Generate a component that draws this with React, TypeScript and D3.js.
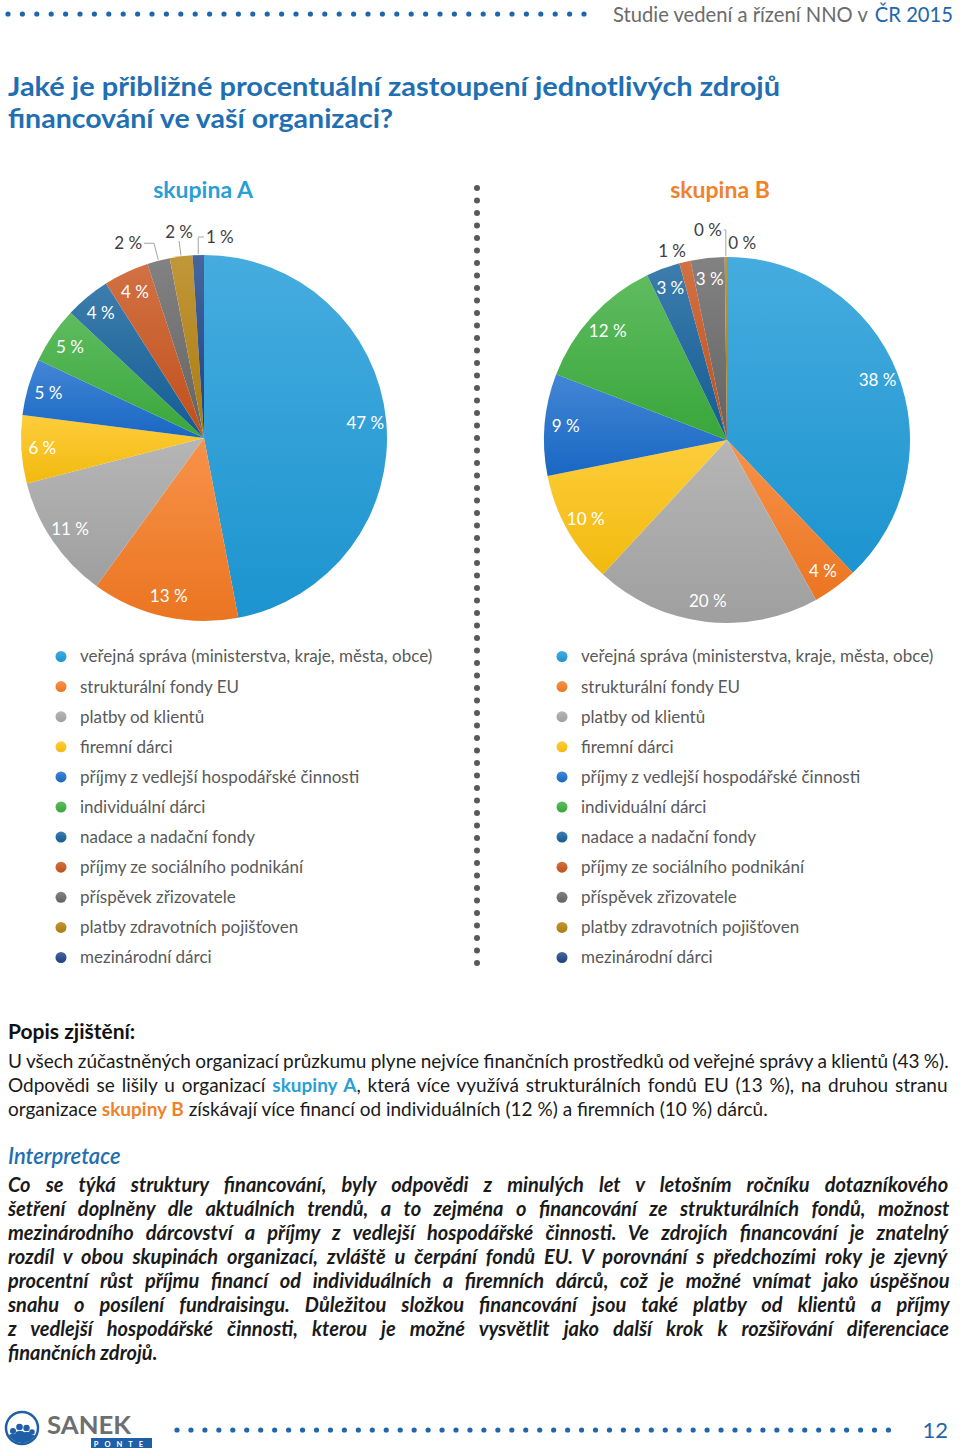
import React from 'react';
import * as d3 from 'd3';

// ---------- data ----------
const categories = [
  'veřejná správa (ministerstva, kraje, města, obce)',
  'strukturální fondy EU',
  'platby od klientů',
  'firemní dárci',
  'příjmy z vedlejší hospodářské činnosti',
  'individuální dárci',
  'nadace a nadační fondy',
  'příjmy ze sociálního podnikání',
  'příspěvek zřizovatele',
  'platby zdravotních pojišťoven',
  'mezinárodní dárci',
];
const sliceColors = [
  '#1d9ad8', '#f57a22', '#a6a6a6', '#fdc210', '#1a6ccc', '#3cad3d',
  '#13609a', '#c8521b', '#676767', '#b3800f', '#1d4487',
];
const valuesA = [47, 13, 11, 6, 5, 5, 4, 4, 2, 2, 1];
const valuesB = [38, 4, 20, 10, 9, 12, 3, 1, 3, 0.2, 0];
const groupTitles = ['skupina A', 'skupina B'];
const groupColors = ['#2a9fd6', '#f0822c'];

const headerText = 'Studie vedení a řízení NNO v';
const headerHighlight = 'ČR 2015';
const titleLines = [
  'Jaké je přibližné procentuální zastoupení jednotlivých zdrojů',
  'financování ve vaší organizaci?',
];
const popisTitle = 'Popis zjištění:';
type Seg = { t: string; c?: string; b?: boolean };
const popisLines: Seg[][] = [
  [{ t: 'U všech zúčastněných organizací průzkumu plyne nejvíce finančních prostředků od veřejné správy a klientů (43 %).' }],
  [
    { t: 'Odpovědi se lišily u organizací ' },
    { t: 'skupiny A', c: '#2a9fd6', b: true },
    { t: ', která více využívá strukturálních fondů EU (13 %), na druhou stranu' },
  ],
  [
    { t: 'organizace ' },
    { t: 'skupiny B', c: '#f0822c', b: true },
    { t: ' získávají více financí od individuálních (12 %) a firemních (10 %) dárců.' },
  ],
];
const interpTitle = 'Interpretace';
const interpLines = [
  'Co se týká struktury financování, byly odpovědi z minulých let v letošním ročníku dotazníkového',
  'šetření doplněny dle aktuálních trendů, a to zejména o financování ze strukturálních fondů, možnost',
  'mezinárodního dárcovství a příjmy z vedlejší hospodářské činnosti. Ve zdrojích financování je znatelný',
  'rozdíl v obou skupinách organizací, zvláště u čerpání fondů EU. V porovnání s předchozími roky je zjevný',
  'procentní růst příjmu financí od individuálních a firemních dárců, což je možné vnímat jako úspěšnou',
  'snahu o posílení fundraisingu. Důležitou složkou financování jsou také platby od klientů a příjmy',
  'z vedlejší hospodářské činnosti, kterou je možné vysvětlit jako další krok k rozšiřování diferenciace',
  'finančních zdrojů.',
];
const pageNumber = '12';

// ---------- layout ----------
const FONT = 'Lato, "Open Sans", sans-serif';
const W = 960;
const R = 183;
const centers = [
  { x: 204, y: 438 },
  { x: 727, y: 440 },
];
// outside labels: slice index, polar position (deg from 12 o'clock, radius), leader line
const outside = [
  [
    { i: 8, a: -21.3, r: 209, leader: true },
    { i: 9, a: -6.9, r: 207.5, leader: true },
    { i: 10, a: 4.5, r: 201.6, leader: true },
  ],
  [
    { i: 7, a: -16.2, r: 197, leader: false },
    { i: 9, a: -5.2, r: 211, leader: true },
    { i: 10, a: 4.4, r: 197.6, leader: false },
  ],
];

let _ctx: CanvasRenderingContext2D | null = null;
function measure(text: string, font: string) {
  if (!_ctx) _ctx = document.createElement('canvas').getContext('2d');
  if (!_ctx) return text.length * 8;
  _ctx.font = font;
  return _ctx.measureText(text).width;
}

function fontStr(size: number, bold: boolean, italic: boolean) {
  return `${italic ? 'italic ' : ''}${bold ? 'bold ' : ''}${size}px Lato`;
}

function JustLine({ segs, x, y, width, justify, size, bold, italic, color }: {
  segs: Seg[]; x: number; y: number; width: number; justify: boolean;
  size: number; bold: boolean; italic: boolean; color: string;
}) {
  let natural = 0;
  let spaces = 0;
  segs.forEach((s) => {
    natural += measure(s.t, fontStr(size, bold || !!s.b, italic));
    spaces += (s.t.match(/ /g) || []).length;
  });
  const props: any = {};
  const style: any = {};
  if (justify && spaces > 0) {
    const extra = (width - natural) / spaces;
    if (extra >= -0.8) style.wordSpacing = `${extra}px`;
    else {
      props.textLength = width;
      props.lengthAdjust = 'spacingAndGlyphs';
    }
  }
  return (
    <text x={x} y={y} fontFamily={FONT} fontSize={size} fontWeight={bold ? 700 : 400}
      fontStyle={italic ? 'italic' : 'normal'} fill={color} style={style} {...props}>
      {segs.map((s, k) => (
        <tspan key={k} fill={s.c || color} fontWeight={bold || s.b ? 700 : 400}>{s.t}</tspan>
      ))}
    </text>
  );
}

function Pie({ g, values }: { g: number; values: number[] }) {
  const c = centers[g];
  const pie = d3.pie<number>().sort(null).value((d) => d);
  const arcs = pie(values);
  const arc = d3.arc<d3.PieArcDatum<number>>().innerRadius(0).outerRadius(R);
  const outs = outside[g];
  const outIdx = new Set(outs.map((o) => o.i));
  const labelR = 162;
  return (
    <g transform={`translate(${c.x},${c.y})`}>
      {arcs.map((a, i) => (a.value > 0 ? (
        <path key={i} d={arc(a) || ''} fill={`url(#grad${i})`} />
      ) : null))}
      {arcs.map((a, i) => {
        if (outIdx.has(i) || a.value <= 0) return null;
        const m = (a.startAngle + a.endAngle) / 2;
        return (
          <text key={'l' + i} x={labelR * Math.sin(m)} y={-labelR * Math.cos(m)} dy="0.36em"
            textAnchor="middle" fontFamily={FONT} fontSize={17} fill="#ffffff">
            {`${Math.round(a.value)} %`}
          </text>
        );
      })}
      {outs.map((o) => {
        const a = arcs[o.i];
        const ang = (o.a * Math.PI) / 180;
        const lx = o.r * Math.sin(ang);
        const ly = -o.r * Math.cos(ang);
        const txt = `${Math.round(a.value)} %`;
        const tw = measure(txt, fontStr(17, false, false)) / 2;
        let line: string | null = null;
        if (o.leader) {
          const m = (a.startAngle + a.endAngle) / 2;
          const ex = (R + 1) * Math.sin(m);
          const ey = -(R + 1) * Math.cos(m);
          if (Math.abs(ex - lx) < tw) {
            line = `M${lx},${ly + 9}L${ex},${ey}`;
          } else {
            const sgn = Math.sign(ex - lx);
            const sx = lx + sgn * (tw + 2);
            const elx = sx + sgn * Math.min(10, Math.abs(ex - sx));
            line = `M${sx},${ly}L${elx},${ly}L${ex},${ey}`;
          }
        }
        return (
          <g key={'o' + o.i}>
            {line && <path d={line} fill="none" stroke="#a6a6a6" strokeWidth={1} />}
            <text x={lx} y={ly} dy="0.36em" textAnchor="middle" fontFamily={FONT}
              fontSize={17} fill="#404040">{txt}</text>
          </g>
        );
      })}
    </g>
  );
}

export default function App() {
  const headerDots = d3.range(41).map((k) => 8 + k * 14.4);
  const footerDots = d3.range(52).map((k) => 177 + k * 13.95);
  const dividerDots = d3.range(63).map((k) => 188 + k * 12.5);
  const legendX = [61, 562];
  const legendY0 = 656.5;
  const legendStep = 30.1;

  // header: two texts in a horizontally condensed group, right-aligned
  const hf = fontStr(22, false, false);
  const hw1 = measure(headerText, hf);
  const hsp = measure(' ', hf) + 1;
  const hw2 = measure(headerHighlight, hf);
  const hk = 340 / (hw1 + hsp + hw2);
  const hRight = 953;

  return (
    <svg width={W} height={1454} viewBox={`0 0 ${W} 1454`}
      style={{ position: 'absolute', left: 0, top: 0, background: '#fff' }}>
      <defs>
        {sliceColors.map((col, i) => {
          const top = d3.interpolateRgb(col, '#ffffff')(0.18);
          const bot = d3.color(col)!.darker(0.12).formatHex();
          return (
            <linearGradient key={i} id={`grad${i}`} x1="0" y1="0" x2="0" y2="1">
              <stop offset="0" stopColor={top} />
              <stop offset="1" stopColor={bot} />
            </linearGradient>
          );
        })}
        <clipPath id="logoClip"><circle cx={22} cy={1428} r={15} /></clipPath>
      </defs>

      {/* header */}
      {headerDots.map((x, k) => <circle key={k} cx={x} cy={14} r={2.6} fill="#1f66ad" />)}
      <g transform={`translate(${hRight - 340},22) scale(${hk},1)`}>
        <text x={0} y={0} fontFamily={FONT} fontSize={22} fill="#6b6b6b">{headerText}</text>
        <text x={hw1 + hsp} y={0} fontFamily={FONT} fontSize={22} fill="#1f66ad">{headerHighlight}</text>
      </g>

      {/* title */}
      <text x={8} y={96} fontFamily={FONT} fontSize={27} fontWeight={700} fill="#1f6fb2"
        textLength={772} lengthAdjust="spacingAndGlyphs">{titleLines[0]}</text>
      <text x={8} y={128} fontFamily={FONT} fontSize={27} fontWeight={700} fill="#1f6fb2"
        textLength={385} lengthAdjust="spacingAndGlyphs">{titleLines[1]}</text>

      {/* group titles */}
      {groupTitles.map((t, g) => (
        <text key={t} x={g === 0 ? 203 : 720} y={198} textAnchor="middle" fontFamily={FONT}
          fontSize={23} fontWeight={700} fill={groupColors[g]}>{t}</text>
      ))}

      <Pie g={0} values={valuesA} />
      <Pie g={1} values={valuesB} />

      {/* divider */}
      {dividerDots.map((y, k) => <circle key={k} cx={477} cy={y} r={3} fill="#595959" />)}

      {/* legends */}
      {legendX.map((lx, g) => (
        <g key={g}>
          {categories.map((cat, i) => (
            <g key={i}>
              <circle cx={lx} cy={legendY0 + i * legendStep} r={5.5} fill={`url(#grad${i})`} />
              <text x={lx + 19} y={legendY0 + i * legendStep} dy="0.35em" fontFamily={FONT}
                fontSize={17} fill="#595959">{cat}</text>
            </g>
          ))}
        </g>
      ))}

      {/* Popis */}
      <text x={8} y={1039} fontFamily={FONT} fontSize={21} fontWeight={700} fill="#111">{popisTitle}</text>
      {popisLines.map((segs, k) => (
        <JustLine key={k} segs={segs} x={8} y={1068 + k * 24} width={942}
          justify={k < 2} size={19} bold={false} italic={false} color="#1a1a1a" />
      ))}

      {/* Interpretace */}
      <text x={8} y={1164} fontFamily={FONT} fontSize={22} fontStyle="italic" fontWeight={600}
        fill="#1f6fb2">{interpTitle}</text>
      {interpLines.map((l, k) => (
        <JustLine key={k} segs={[{ t: l }]} x={8} y={1192 + k * 24} width={942}
          justify={k < interpLines.length - 1} size={20} bold={true} italic={true} color="#1a1a1a" />
      ))}

      {/* footer */}
      <circle cx={22} cy={1428} r={16} fill="none" stroke="#1f5fa8" strokeWidth={2.5} />
      <g clipPath="url(#logoClip)" fill="#1f5fa8">
        <circle cx={13} cy={1431} r={3} />
        <circle cx={19.5} cy={1427} r={3.3} />
        <circle cx={26.5} cy={1428} r={3.2} />
        <circle cx={32} cy={1432} r={2.8} />
        <rect x={8} y={1434} width={10} height={12} rx={4} />
        <rect x={15} y={1431} width={10} height={15} rx={4} />
        <rect x={22} y={1432} width={10} height={14} rx={4} />
        <rect x={28} y={1435} width={9} height={12} rx={4} />
      </g>
      <text x={47} y={1433.5} fontFamily={FONT} fontSize={25} fontWeight={700} fill="#6d6e71"
        textLength={84} lengthAdjust="spacingAndGlyphs">SANEK</text>
      <rect x={91} y={1438} width={61} height={10} fill="#1f5fa8" />
      <text x={121.5} y={1446.5} textAnchor="middle" fontFamily={FONT} fontSize={7.5}
        fontWeight={700} fill="#fff" letterSpacing={6}>PONTE</text>
      {footerDots.map((x, k) => <circle key={k} cx={x} cy={1430} r={2.6} fill="#1f66ad" />)}
      <text x={948} y={1438} textAnchor="end" fontFamily={FONT} fontSize={22} fill="#1f66ad">{pageNumber}</text>
    </svg>
  );
}
